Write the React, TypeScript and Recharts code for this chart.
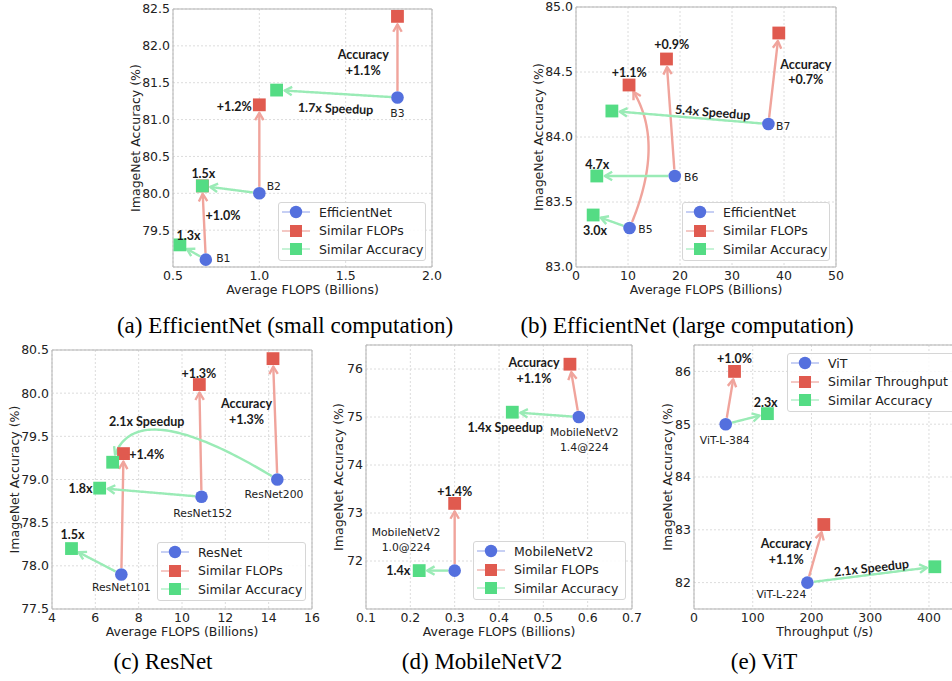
import React from "react";
import {
  ScatterChart,
  Scatter,
  XAxis,
  YAxis,
  CartesianGrid,
  ReferenceLine,
  ReferenceDot,
  ReferenceArea,
  Legend,
} from "recharts";

type Pt = { x: number; y: number };
type Note = { text: string; x: number; y: number; angle?: number };

// (a) EfficientNet, small computation
const effSmallNames = ["B1", "B2", "B3"];
const effSmallBase: Pt[] = [
  { x: 0.69, y: 79.1 },
  { x: 1.0, y: 80.0 },
  { x: 1.8, y: 81.3 },
];
const effSmallFlops: Pt[] = [
  { x: 0.67, y: 80.1 },
  { x: 1.0, y: 81.2 },
  { x: 1.8, y: 82.4 },
];
const effSmallAcc: Pt[] = [
  { x: 0.54, y: 79.3 },
  { x: 0.67, y: 80.1 },
  { x: 1.1, y: 81.4 },
];
const effSmallNotes: Note[] = [
  { text: "1.3x", x: 0.59, y: 79.43 },
  { text: "+1.0%", x: 0.79, y: 79.7 },
  { text: "1.5x", x: 0.676, y: 80.27 },
  { text: "+1.2%", x: 0.855, y: 81.18 },
  { text: "1.7x Speedup", x: 1.442, y: 81.15, angle: 2 },
  { text: "Accuracy", x: 1.602, y: 81.88 },
  { text: "+1.1%", x: 1.602, y: 81.66 },
];

// (b) EfficientNet, large computation
const effLargeNames = ["B5", "B6", "B7"];
const effLargeBase: Pt[] = [
  { x: 10.3, y: 83.3 },
  { x: 19.0, y: 83.7 },
  { x: 37.0, y: 84.1 },
];
const effLargeFlops: Pt[] = [
  { x: 10.2, y: 84.4 },
  { x: 17.4, y: 84.6 },
  { x: 39.0, y: 84.8 },
];
const effLargeAcc: Pt[] = [
  { x: 3.3, y: 83.4 },
  { x: 4.0, y: 83.7 },
  { x: 6.9, y: 84.2 },
];
const effLargeNotes: Note[] = [
  { text: "+0.9%", x: 18.4, y: 84.71 },
  { text: "+1.1%", x: 10.25, y: 84.5 },
  { text: "Accuracy", x: 44.2, y: 84.56 },
  { text: "+0.7%", x: 44.2, y: 84.44 },
  { text: "5.4x Speedup", x: 26.3, y: 84.19, angle: 4.5 },
  { text: "4.7x", x: 4.1, y: 83.79 },
  { text: "3.0x", x: 3.65, y: 83.28 },
];

// (c) ResNet
const resnetNames = ["ResNet101", "ResNet152", "ResNet200"];
const resnetBase: Pt[] = [
  { x: 7.2, y: 77.9 },
  { x: 10.9, y: 78.8 },
  { x: 14.4, y: 79.0 },
];
const resnetFlops: Pt[] = [
  { x: 7.3, y: 79.3 },
  { x: 10.8, y: 80.1 },
  { x: 14.2, y: 80.4 },
];
const resnetAcc: Pt[] = [
  { x: 4.9, y: 78.2 },
  { x: 6.2, y: 78.9 },
  { x: 6.8, y: 79.2 },
];
const resnetNotes: Note[] = [
  { text: "+1.3%", x: 10.78, y: 80.23 },
  { text: "Accuracy", x: 12.98, y: 79.88 },
  { text: "+1.3%", x: 12.98, y: 79.7 },
  { text: "2.1x Speedup", x: 8.37, y: 79.67 },
  { text: "+1.4%", x: 8.37, y: 79.29 },
  { text: "1.8x", x: 5.32, y: 78.9 },
  { text: "1.5x", x: 4.95, y: 78.36 },
];

// (d) MobileNetV2
const mobileNames = ["MobileNetV2\n1.0@224", "MobileNetV2\n1.4@224"];
const mobileBase: Pt[] = [
  { x: 0.3, y: 71.8 },
  { x: 0.58, y: 75.0 },
];
const mobileFlops: Pt[] = [
  { x: 0.3, y: 73.2 },
  { x: 0.56, y: 76.1 },
];
const mobileAcc: Pt[] = [
  { x: 0.22, y: 71.8 },
  { x: 0.43, y: 75.1 },
];
const mobileNotes: Note[] = [
  { text: "Accuracy", x: 0.479, y: 76.13 },
  { text: "+1.1%", x: 0.479, y: 75.81 },
  { text: "1.4x Speedup", x: 0.414, y: 74.78 },
  { text: "+1.4%", x: 0.3, y: 73.44 },
  { text: "1.4x", x: 0.173, y: 71.8 },
];

// (e) ViT
const vitNames = ["ViT-L-384", "ViT-L-224"];
const vitBase: Pt[] = [
  { x: 54, y: 85.0 },
  { x: 193, y: 82.0 },
];
const vitThroughput: Pt[] = [
  { x: 69, y: 86.0 },
  { x: 221, y: 83.1 },
];
const vitAcc: Pt[] = [
  { x: 125, y: 85.2 },
  { x: 410, y: 82.3 },
];
const vitNotes: Note[] = [
  { text: "+1.0%", x: 69, y: 86.25 },
  { text: "2.3x", x: 122, y: 85.41 },
  { text: "Accuracy", x: 157, y: 82.74 },
  { text: "+1.1%", x: 157, y: 82.44 },
  { text: "2.1x Speedup", x: 302, y: 82.28, angle: -6.5 },
];

const BLUE = "#5470de";
const RED = "#e05a4f";
const GREEN = "#54dc84";
const RED_ARROW = "#f0a49c";
const GREEN_ARROW = "#9aebb6";
const INK = "#222";
const FONT = "DejaVu Sans";
const AXIS_W = 60;
const AXIS_H = 40;
const PAD = 12;

type Bend = [number, number] | null;

interface PanelSpec {
  box: [number, number, number, number];
  xDomain: [number, number];
  yDomain: [number, number];
  xTicks: number[];
  yTicks: number[];
  xDigits: number;
  yDigits: number;
  xLabel: string;
  yGap: number;
  baseName: string;
  flopsName: string;
  names: string[];
  base: Pt[];
  flops: Pt[];
  acc: Pt[];
  notes: Note[];
  nameOffsets: [number, number, "start" | "middle"][];
  redBend?: Bend[];
  greenBend?: Bend[];
  legend: { left: number; top: number; width: number };
}

const panels: PanelSpec[] = [
  {
    box: [173, 9, 432, 267],
    xDomain: [0.5, 2.0],
    yDomain: [79.0, 82.5],
    xTicks: [0.5, 1.0, 1.5, 2.0],
    yTicks: [79.5, 80.0, 80.5, 81.0, 81.5, 82.0, 82.5],
    xDigits: 1,
    yDigits: 1,
    xLabel: "Average FLOPS (Billions)",
    yGap: 37,
    baseName: "EfficientNet",
    flopsName: "Similar FLOPs",
    names: effSmallNames,
    base: effSmallBase,
    flops: effSmallFlops,
    acc: effSmallAcc,
    notes: effSmallNotes,
    nameOffsets: [
      [10.4, -1.3, "start"],
      [7.3, -7.6, "start"],
      [0, 15.3, "middle"],
    ],
    legend: { left: 278, top: 202, width: 148 },
  },
  {
    box: [576, 7, 836, 267],
    xDomain: [0, 50],
    yDomain: [83, 85],
    xTicks: [0, 10, 20, 30, 40, 50],
    yTicks: [83, 83.5, 84, 84.5, 85],
    xDigits: 0,
    yDigits: 1,
    xLabel: "Average FLOPS (Billions)",
    yGap: 37,
    baseName: "EfficientNet",
    flopsName: "Similar FLOPs",
    names: effLargeNames,
    base: effLargeBase,
    flops: effLargeFlops,
    acc: effLargeAcc,
    notes: effLargeNotes,
    nameOffsets: [
      [8.7, 1.3, "start"],
      [9.2, 0.5, "start"],
      [7.6, 2, "start"],
    ],
    redBend: [[0.62, -0.27], null, null],
    legend: { left: 682, top: 202, width: 148 },
  },
  {
    box: [52, 350, 312, 609],
    xDomain: [4, 16],
    yDomain: [77.5, 80.5],
    xTicks: [4, 6, 8, 10, 12, 14, 16],
    yTicks: [77.5, 78.0, 78.5, 79.0, 79.5, 80.0, 80.5],
    xDigits: 0,
    yDigits: 1,
    xLabel: "Average FLOPS (Billions)",
    yGap: 37,
    baseName: "ResNet",
    flopsName: "Similar FLOPs",
    names: resnetNames,
    base: resnetBase,
    flops: resnetFlops,
    acc: resnetAcc,
    notes: resnetNotes,
    nameOffsets: [
      [0, 12.2, "middle"],
      [1.2, 16.5, "middle"],
      [-3.3, 14.5, "middle"],
    ],
    greenBend: [null, null, [0.94, -0.45]],
    legend: { left: 157, top: 542, width: 149 },
  },
  {
    box: [366, 345, 632, 609],
    xDomain: [0.1, 0.7],
    yDomain: [71.0, 76.5],
    xTicks: [0.1, 0.2, 0.3, 0.4, 0.5, 0.6, 0.7],
    yTicks: [72, 73, 74, 75, 76],
    xDigits: 1,
    yDigits: 0,
    xLabel: "Average FLOPS (Billions)",
    yGap: 27,
    baseName: "MobileNetV2",
    flopsName: "Similar FLOPs",
    names: mobileNames,
    base: mobileBase,
    flops: mobileFlops,
    acc: mobileAcc,
    notes: mobileNotes,
    nameOffsets: [
      [-48.7, -38.9, "middle"],
      [5.5, 14.7, "middle"],
    ],
    legend: { left: 473, top: 541, width: 153 },
  },
  {
    box: [694.3, 345, 955.7, 609],
    xDomain: [0, 445],
    yDomain: [81.5, 86.5],
    xTicks: [0, 100, 200, 300, 400],
    yTicks: [82, 83, 84, 85, 86],
    xDigits: 0,
    yDigits: 0,
    xLabel: "Throughput (/s)",
    yGap: 26,
    baseName: "ViT",
    flopsName: "Similar Throughput",
    names: vitNames,
    base: vitBase,
    flops: vitThroughput,
    acc: vitAcc,
    notes: vitNotes,
    nameOffsets: [
      [-1, 15.8, "middle"],
      [-26, 11.7, "middle"],
    ],
    legend: { left: 787, top: 353, width: 200 },
  },
];

const captions = [
  { text: "(a) EfficientNet (small computation)", x: 285, y: 326 },
  { text: "(b) EfficientNet (large computation)", x: 687, y: 326 },
  { text: "(c) ResNet", x: 163, y: 662 },
  { text: "(d) MobileNetV2", x: 482, y: 662 },
  { text: "(e) ViT", x: 764, y: 662 },
];

// sample a quadratic curve between the two ends, then trim both ends
function arrowShape(color: string, bend: Bend | undefined) {
  return (p: any) => {
    const { x1, y1, x2, y2 } = p;
    const dx = x2 - x1;
    const dy = y2 - y1;
    const [t, k] = bend ?? [0.5, 0];
    const cx = x1 + t * dx + k * dy;
    const cy = y1 + t * dy - k * dx;
    let pts: number[][] = [];
    for (let i = 0; i <= 80; i++) {
      const s = i / 80;
      const a = (1 - s) * (1 - s);
      const b = 2 * s * (1 - s);
      const c = s * s;
      pts.push([a * x1 + b * cx + c * x2, a * y1 + b * cy + c * y2]);
    }
    const trim = (arr: number[][], len: number) => {
      let acc = 0;
      for (let i = 1; i < arr.length; i++) {
        const seg = Math.hypot(arr[i][0] - arr[i - 1][0], arr[i][1] - arr[i - 1][1]);
        if (acc + seg >= len) {
          const f = (len - acc) / seg;
          const q = [
            arr[i - 1][0] + f * (arr[i][0] - arr[i - 1][0]),
            arr[i - 1][1] + f * (arr[i][1] - arr[i - 1][1]),
          ];
          return [q, ...arr.slice(i)];
        }
        acc += seg;
      }
      return arr;
    };
    pts = trim(pts, 6.5);
    pts = trim(pts.slice().reverse(), 8).reverse();
    const n = pts.length;
    const [tx, ty] = pts[n - 1];
    const [px, py] = pts[Math.max(0, n - 4)];
    const ang = Math.atan2(ty - py, tx - px);
    const L = 8.5;
    const A = 0.52;
    const h1 = [tx - L * Math.cos(ang - A), ty - L * Math.sin(ang - A)];
    const h2 = [tx - L * Math.cos(ang + A), ty - L * Math.sin(ang + A)];
    const d = "M" + pts.map((q) => `${q[0].toFixed(2)},${q[1].toFixed(2)}`).join("L");
    return (
      <g>
        <path d={d} fill="none" stroke={color} strokeWidth={2.4} />
        <path
          d={`M${h1[0]},${h1[1]}L${tx},${ty}L${h2[0]},${h2[1]}`}
          fill="none"
          stroke={color}
          strokeWidth={2.4}
          strokeLinejoin="round"
        />
      </g>
    );
  };
}

const circleShape = (p: any) => <circle cx={p.cx} cy={p.cy} r={6.3} fill={BLUE} />;
const squareShape = (color: string) => (p: any) =>
  <rect x={p.cx - 6.4} y={p.cy - 6.4} width={12.8} height={12.8} fill={color} />;

function LegendBox({ items, width }: { items: { label: string; color: string; circle: boolean }[]; width: number }) {
  return (
    <div
      style={{
        width,
        height: 59,
        boxSizing: "border-box",
        border: "1px solid #d6d6d6",
        borderRadius: 3,
        background: "rgba(255,255,255,0.85)",
        paddingLeft: 3,
        fontFamily: FONT,
        fontSize: 12.5,
        color: INK,
      }}
    >
      {items.map((it) => (
        <div key={it.label} style={{ display: "flex", alignItems: "center", height: 18.6 }}>
          <svg width={28} height={14} style={{ flex: "none" }}>
            <line x1={0} y1={7} x2={28} y2={7} stroke={it.color} strokeOpacity={0.55} strokeWidth={1.2} />
            {it.circle ? (
              <circle cx={14} cy={7} r={6.2} fill={it.color} />
            ) : (
              <rect x={8} y={1} width={12} height={12} fill={it.color} />
            )}
          </svg>
          <span style={{ marginLeft: 9, whiteSpace: "nowrap" }}>{it.label}</span>
        </div>
      ))}
    </div>
  );
}

function Panel({ p }: { p: PanelSpec }) {
  const [x0, y0, x1, y1] = p.box;
  const left = x0 - AXIS_W;
  const top = y0 - PAD;
  const width = x1 - x0 + AXIS_W + PAD;
  const height = y1 - y0 + PAD + AXIS_H;
  const arrows = [
    ...p.base.map((b, i) => ({ from: b, to: p.flops[i], color: RED_ARROW, bend: p.redBend?.[i] })),
    ...p.base.map((b, i) => ({ from: b, to: p.acc[i], color: GREEN_ARROW, bend: p.greenBend?.[i] })),
  ];
  const legendItems = [
    { label: p.baseName, color: BLUE, circle: true },
    { label: p.flopsName, color: RED, circle: false },
    { label: "Similar Accuracy", color: GREEN, circle: false },
  ];
  return (
    <div style={{ position: "absolute", left, top }}>
      <ScatterChart
        width={width}
        height={height}
        margin={{ top: PAD, right: PAD, left: 0, bottom: 0 }}
        style={{ fontFamily: FONT }}
      >
        <CartesianGrid stroke="#dcdcdc" strokeDasharray="2 2" />
        <XAxis
          type="number"
          dataKey="x"
          domain={p.xDomain}
          allowDataOverflow
          ticks={p.xTicks}
          interval={0}
          tickFormatter={(v: number) => v.toFixed(p.xDigits)}
          axisLine={false}
          tickLine={false}
          tickSize={0}
          tickMargin={4}
          height={AXIS_H}
          tick={{ fontSize: 12.5, fill: INK }}
          label={{ value: p.xLabel, position: "insideBottom", offset: 13, style: { fontSize: 12.5, fill: INK } }}
        />
        <YAxis
          type="number"
          dataKey="y"
          domain={p.yDomain}
          allowDataOverflow
          ticks={p.yTicks}
          interval={0}
          tickFormatter={(v: number) => v.toFixed(p.yDigits)}
          axisLine={false}
          tickLine={false}
          tickSize={0}
          tickMargin={3}
          width={AXIS_W}
          tick={{ fontSize: 12.5, fill: INK }}
          label={{
            value: "ImageNet Accuracy (%)",
            angle: -90,
            position: "insideLeft",
            offset: AXIS_W - p.yGap,
            style: { textAnchor: "middle", fontSize: 12.5, fill: INK },
          }}
        />
        <ReferenceArea
          x1={p.xDomain[0]}
          x2={p.xDomain[1]}
          y1={p.yDomain[0]}
          y2={p.yDomain[1]}
          fill="none"
          stroke="#b3b3b3"
          strokeWidth={1}
          ifOverflow="visible"
        />
        {arrows.map((a, i) => (
          <ReferenceLine
            key={`arrow-${i}`}
            segment={[a.from, a.to]}
            ifOverflow="visible"
            shape={arrowShape(a.color, a.bend)}
          />
        ))}
        <Scatter name={p.baseName} data={p.base} fill={BLUE} shape={circleShape} isAnimationActive={false} />
        <Scatter name={p.flopsName} data={p.flops} fill={RED} shape={squareShape(RED)} isAnimationActive={false} />
        <Scatter name="Similar Accuracy" data={p.acc} fill={GREEN} shape={squareShape(GREEN)} isAnimationActive={false} />
        {p.names.map((name, i) => {
          const [dx, dy, anchor] = p.nameOffsets[i];
          const lines = name.split("\n");
          return (
            <ReferenceDot
              key={`name-${i}`}
              x={p.base[i].x}
              y={p.base[i].y}
              ifOverflow="visible"
              shape={(s: any) => (
                <text
                  textAnchor={anchor}
                  dominantBaseline="central"
                  style={{ fontFamily: FONT, fontSize: 10.8, fill: INK }}
                >
                  {lines.map((ln, j) => (
                    <tspan key={j} x={s.cx + dx} y={s.cy + dy + j * 15.6}>
                      {ln}
                    </tspan>
                  ))}
                </text>
              )}
            />
          );
        })}
        {p.notes.map((n, i) => (
          <ReferenceDot
            key={`note-${i}`}
            x={n.x}
            y={n.y}
            ifOverflow="visible"
            shape={(s: any) => (
              <text
                x={s.cx}
                y={s.cy}
                textAnchor="middle"
                dominantBaseline="central"
                transform={n.angle ? `rotate(${n.angle} ${s.cx} ${s.cy})` : undefined}
                style={{ fontFamily: "Lato", fontWeight: 700, fontSize: 12.5, fill: "#1a1a1a" }}
              >
                {n.text}
              </text>
            )}
          />
        ))}
        <Legend
          layout="vertical"
          align="center"
          verticalAlign="middle"
          wrapperStyle={{ left: p.legend.left - left, top: p.legend.top - top, width: p.legend.width, height: 59 }}
          content={() => <LegendBox items={legendItems} width={p.legend.width} />}
        />
      </ScatterChart>
    </div>
  );
}

export default function App() {
  return (
    <div
      style={{
        position: "absolute",
        left: 0,
        top: 0,
        width: 952,
        height: 681,
        overflow: "hidden",
        background: "#fff",
      }}
    >
      {panels.map((p, i) => (
        <Panel key={i} p={p} />
      ))}
      {captions.map((c) => (
        <div
          key={c.text}
          style={{
            position: "absolute",
            left: c.x,
            top: c.y - 12,
            transform: "translateX(-50%)",
            whiteSpace: "nowrap",
            fontFamily: "Liberation Serif",
            fontSize: 23,
            lineHeight: "24px",
            color: "#000",
          }}
        >
          {c.text}
        </div>
      ))}
    </div>
  );
}
